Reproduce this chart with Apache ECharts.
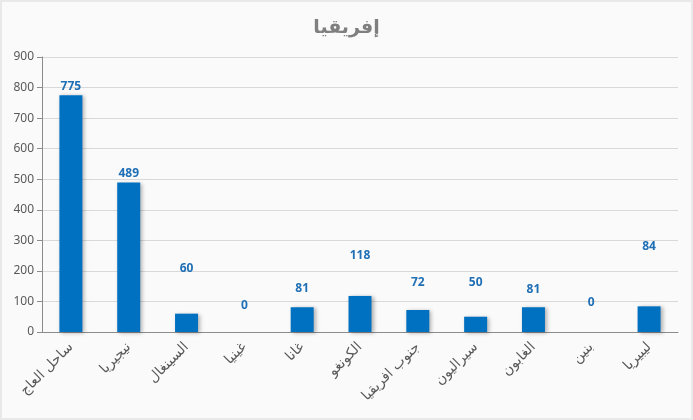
<!DOCTYPE html>
<html>
<head>
<meta charset="utf-8">
<script src="https://cdn.jsdelivr.net/npm/echarts@6/dist/echarts.min.js"></script>
<style>
  html, body { margin: 0; padding: 0; background: #e9e9e9; }
  #chart { position: absolute; left: 2px; top: 2px; width: 689px; height: 416px; background: #fafafa; }
</style>
</head>
<body>
<div id="chart"></div>
<script>
// بيانات الرسم
const countries = ['ساحل العاج', 'نيجيريا', 'السينغال', 'غينيا', 'غانا', 'الكونغو', 'جنوب افريقيا', 'سيراليون', 'الغابون', 'بنين', 'ليبيريا'];
const counts = [775, 489, 60, 0, 81, 118, 72, 50, 81, 0, 84];
const yTicks = [0, 100, 200, 300, 400, 500, 600, 700, 800, 900];

// labels were moved by hand in the original, so nudge them the same way (px)
const labelNudge = [2, 2, -34, -15, -8, -29, -16, -23, -7, -18, -49];

const chart = echarts.init(document.getElementById('chart'));

const option = {
  title: {
    text: 'إفريقيا',
    left: 'center',
    top: 12,
    textStyle: { color: '#7f7f7f', fontSize: 19, fontWeight: 'bold', fontFamily: 'DejaVu Sans' }
  },
  grid: { left: 40, right: 13, top: 55, bottom: 86 },
  xAxis: {
    type: 'category',
    data: countries,
    axisLine: { lineStyle: { color: '#8c8c8c' } },
    axisTick: { alignWithLabel: false, length: 6, lineStyle: { color: '#8c8c8c' } },
    axisLabel: { rotate: 45, color: '#595959', fontSize: 14, fontFamily: 'DejaVu Sans', margin: 13, interval: 0 }
  },
  yAxis: {
    type: 'value',
    min: yTicks[0],
    max: yTicks[yTicks.length - 1],
    interval: yTicks[1] - yTicks[0],
    axisLine: { show: true, lineStyle: { color: '#8c8c8c' } },
    axisTick: { show: true, length: 5, lineStyle: { color: '#8c8c8c' } },
    axisLabel: { color: '#595959', fontSize: 12, fontFamily: 'Noto Sans', margin: 8 },
    splitLine: { lineStyle: { color: '#d9d9d9' } }
  },
  series: [{
    type: 'bar',
    barWidth: 23,
    data: counts.map((v, i) => ({
      value: v,
      label: { offset: [0, labelNudge[i]] }
    })),
    itemStyle: {
      color: '#0070c0',
      shadowColor: 'rgba(0,0,0,0.3)',
      shadowBlur: 4,
      shadowOffsetX: 2,
      shadowOffsetY: 1
    },
    label: {
      show: true,
      position: 'top',
      color: '#1f6fb5',
      fontSize: 12,
      fontWeight: 'bold',
      fontFamily: 'Noto Sans'
    }
  }]
};

chart.setOption(option);
</script>
</body>
</html>
